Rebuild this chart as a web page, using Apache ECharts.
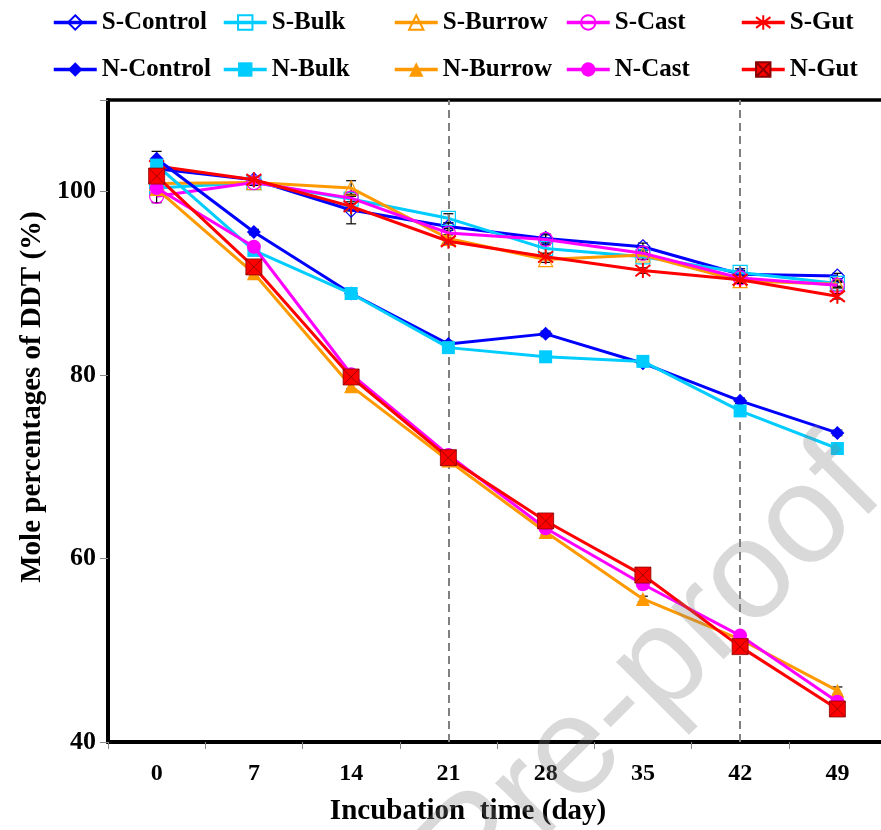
<!DOCTYPE html>
<html><head><meta charset="utf-8">
<script src="https://cdn.jsdelivr.net/npm/echarts@6/dist/echarts.min.js"></script>
<style>html,body{margin:0;padding:0;background:#fff}#c{width:881px;height:830px}</style>
</head><body><div id="c"></div>
<script>
// ---- data ----
const days = ['0', '7', '14', '21', '28', '35', '42', '49'];
const yTickValues = [40, 60, 80, 100];
const dashedDays = ['21', '42'];

const SControl = [102.5, 101.3, 98.0, 96.2, 94.9, 94.0, 91.0, 90.8];
const SBulk    = [100.4, 101.0, 99.2, 97.1, 93.8, 92.9, 91.2, 90.0];
const SBurrow  = [100.9, 101.0, 100.4, 94.9, 92.6, 93.1, 90.3, 89.9];
const SCast    = [99.5, 101.0, 99.3, 95.5, 94.8, 93.3, 90.6, 89.8];
const SGut     = [102.8, 101.3, 98.4, 94.6, 92.9, 91.4, 90.4, 88.6];
const NControl = [103.6, 95.6, 88.9, 83.4, 84.5, 81.3, 77.2, 73.7];
const NBulk    = [102.9, 93.6, 88.9, 83.0, 82.0, 81.5, 76.1, 72.0];
const NBurrow  = [100.3, 91.1, 78.8, 70.7, 62.9, 55.6, 51.2, 45.6];
const NCast    = [100.4, 94.0, 80.1, 71.3, 63.3, 57.2, 51.6, 44.4];
const NGut     = [101.7, 91.8, 79.8, 71.0, 64.1, 58.2, 50.4, 43.6];

// error (± %) per series
const errSControl = [0.5, 0.3, 1.5, 0.4, 0.4, 0.4, 0.4, 0.3];
const errSBulk    = [0.5, 0.3, 0.5, 0.5, 0.5, 0.3, 0.4, 0.3];
const errSBurrow  = [0.4, 0.3, 0.8, 0.4, 0.3, 0.3, 0.3, 0.3];
const errSCast    = [0.7, 0.3, 0.6, 0.5, 0.6, 0.4, 0.3, 0.3];
const errSGut     = [0.3, 0.3, 0.5, 0.3, 0.3, 0.3, 0.3, 0.3];
const errNControl = [0.8, 0.3, 0.3, 0.3, 0.3, 0.3, 0.3, 0.3];
const errNBulk    = [0.3, 0.3, 0.3, 0.3, 0.3, 0.3, 0.3, 0.3];
const errNBurrow  = [0.3, 0.3, 0.3, 0.3, 0.3, 0.3, 0.3, 0.4];
const errNCast    = [0.3, 0.3, 0.3, 0.3, 0.3, 0.3, 0.3, 0.3];
const errNGut     = [0.3, 0.3, 0.3, 0.3, 0.3, 0.3, 0.3, 0.3];

const seriesNames = ['S-Control', 'S-Bulk', 'S-Burrow', 'S-Cast', 'S-Gut',
                     'N-Control', 'N-Bulk', 'N-Burrow', 'N-Cast', 'N-Gut'];
const seriesValues = [SControl, SBulk, SBurrow, SCast, SGut, NControl, NBulk, NBurrow, NCast, NGut];
const seriesErrors = [errSControl, errSBulk, errSBurrow, errSCast, errSGut,
                      errNControl, errNBulk, errNBurrow, errNCast, errNGut];

// ---- styles ----
const FONT = '"Liberation Serif", "Times New Roman", serif';
const baseColors = ['#0000FF', '#00CCFF', '#FF9900', '#FF00FF', '#FF0000'];
const STAR = 'path://M10,0L10,20M2.5,2.5L17.5,17.5M2.5,17.5L17.5,2.5';
const SQX = 'path://M0,0L20,0L20,20L0,20ZM0,0L20,20M20,0L0,20';
const openSymbols = ['diamond', 'rect', 'triangle', 'circle', STAR];
const filledSymbols = ['diamond', 'rect', 'triangle', 'circle', SQX];
const symbolSizes = [14, 13, 14, 14, 16];

const series = [];
seriesNames.forEach((name, i) => {
  const k = i % 5;
  const open = i < 5;
  const c = baseColors[k];
  series.push({
    name: name,
    type: 'line',
    data: seriesValues[i],
    symbol: open ? openSymbols[k] : filledSymbols[k],
    symbolSize: open ? (k === 4 ? 15 : 14) : symbolSizes[k],
    showAllSymbol: true,
    z: 3 + i,
    lineStyle: { color: c, width: 3 },
    itemStyle: open
      ? { color: 'rgba(255,255,255,0)', borderColor: c, borderWidth: k === 4 ? 2 : 1.2, opacity: 1 }
      : (k === 4 ? { color: c, borderColor: '#8a0000', borderWidth: 0.8 } : { color: c, borderWidth: 0 }),
    emphasis: { disabled: true },
    animation: false
  });
});

// error bars
const errData = [];
seriesValues.forEach((vals, i) => {
  vals.forEach((v, j) => {
    errData.push([j, v - seriesErrors[i][j], v + seriesErrors[i][j]]);
  });
});
series.unshift({
  type: 'custom',
  name: 'err',
  z: 2,
  silent: true,
  animation: false,
  data: errData,
  renderItem: function (params, api) {
    const lo = api.coord([api.value(0), api.value(1)]);
    const hi = api.coord([api.value(0), api.value(2)]);
    const w = 5;
    const st = { stroke: '#000', lineWidth: 1.2 };
    return {
      type: 'group',
      children: [
        { type: 'line', shape: { x1: lo[0], y1: lo[1], x2: hi[0], y2: hi[1] }, style: st },
        { type: 'line', shape: { x1: lo[0] - w, y1: lo[1], x2: lo[0] + w, y2: lo[1] }, style: st },
        { type: 'line', shape: { x1: hi[0] - w, y1: hi[1], x2: hi[0] + w, y2: hi[1] }, style: st }
      ]
    };
  }
});

// dashed reference lines
series.push({
  type: 'line',
  name: 'ref',
  data: [],
  silent: true,
  animation: false,
  markLine: {
    symbol: 'none',
    silent: true,
    label: { show: false },
    lineStyle: { color: '#808080', type: [8, 5], width: 2 },
    data: dashedDays.map(d => ({ xAxis: d }))
  }
});

const legendCols = [52, 222, 393, 565, 740];
const legendRows = [10, 57];
const legends = seriesNames.map((n, i) => ({
  data: [n],
  left: legendCols[i % 5],
  top: legendRows[Math.floor(i / 5)],
  padding: 0,
  itemWidth: 43,
  itemHeight: 18,
  selectedMode: false,
  lineStyle: { width: 3.5 },
  textStyle: { fontFamily: FONT, fontWeight: 'bold', fontSize: 25, color: '#000' }
}));

const chart = echarts.init(document.getElementById('c'), null, { renderer: 'canvas' });
chart.setOption({
  backgroundColor: '#fff',
  animation: false,
  legend: legends,
  grid: {
    left: 108, top: 100, width: 778, height: 642,
    outerBoundsMode: 'none', containLabel: false,
    show: true, borderColor: '#000', borderWidth: 3.5, backgroundColor: 'transparent'
  },
  xAxis: {
    type: 'category',
    data: days,
    boundaryGap: true,
    axisLine: { lineStyle: { color: '#000', width: 4 } },
    axisTick: { show: true, length: 7, inside: false, lineStyle: { color: '#888', width: 1 } },
    axisLabel: { fontFamily: FONT, fontWeight: 'bold', fontSize: 24, color: '#000', margin: 20 },
    splitLine: { show: false }
  },
  yAxis: {
    type: 'value',
    min: 40, max: 110, interval: 20,
    axisLine: { show: true, lineStyle: { color: '#000', width: 4 } },
    axisTick: { show: true, length: 8, lineStyle: { color: '#888', width: 1 } },
    axisLabel: {
      fontFamily: FONT, fontWeight: 'bold', fontSize: 26, color: '#000', margin: 12,
      customValues: yTickValues
    },
    splitLine: { show: false }
  },
  graphic: [
    {
      type: 'text', x: 33, y: 397, rotation: Math.PI / 2, silent: true,
      style: { text: 'Mole percentages of DDT (%)', font: 'bold 29px ' + FONT, fill: '#000',
               align: 'center', verticalAlign: 'middle', textAlign: 'center', textVerticalAlign: 'middle' }
    },
    {
      type: 'text', x: 468, y: 812, silent: true,
      style: { text: 'Incubation  time (day)', font: 'bold 29px ' + FONT, fill: '#000',
               align: 'center', verticalAlign: 'middle', textAlign: 'center', textVerticalAlign: 'middle' }
    },
    {
      type: 'text', x: 860, y: 468, rotation: Math.PI / 4, silent: true, z: 100,
      style: { text: 'Journal Pre-proof', font: '140px "Liberation Sans", Arial, sans-serif',
               fill: 'rgba(128,128,128,0.3)',
               align: 'right', verticalAlign: 'middle', textAlign: 'right', textVerticalAlign: 'middle' }
    }
  ],
  series: series
});
</script>
</body></html>
